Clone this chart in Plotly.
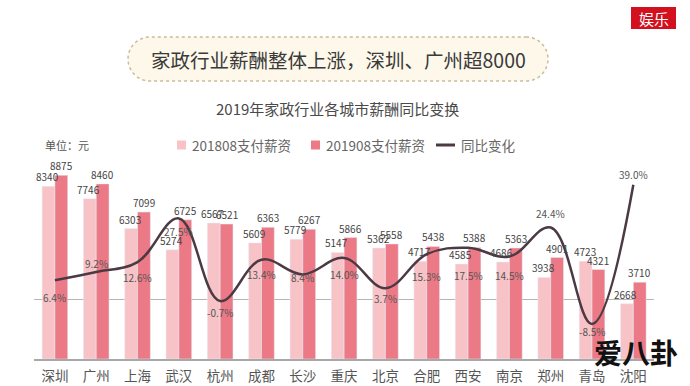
import math
import plotly.graph_objects as go

cities = ["深圳", "广州", "上海", "武汉", "杭州", "成都", "长沙", "重庆",
          "北京", "合肥", "西安", "南京", "郑州", "青岛", "沈阳"]
pay_2018 = [8340, 7746, 6303, 5274, 6567, 5609, 5779, 5147, 5362, 4717, 4585, 4686, 3938, 4723, 2668]
pay_2019 = [8875, 8460, 7099, 6725, 6521, 6363, 6267, 5866, 5558, 5438, 5388, 5363, 4901, 4321, 3710]
yoy_change = [6.4, 9.2, 12.6, 27.5, -0.7, 13.4, 8.4, 14.0, 3.7, 15.3, 17.5, 14.5, 24.4, -8.5, 39.0]
# style: vertical offset (px, +down) of each percentage label from its point
yoy_label_dy = [17, -9, 15, 13, 11, 15, 3, 17, 10, 22, 28, 19, -14, 8, -10]

W, H = 690, 386
L, R, T, B = 34, 654, 150, 359
FONT = "Noto Sans CJK SC, Noto Sans, sans-serif"
C18 = "#f8c3c6"
C19 = "#ec7a86"
CLINE = "#4b3a44"
BARGAP = 0.38


def px(x):
    return (x - L) / (R - L)


def py(y):
    return (B - y) / (B - T)


fig = go.Figure()
fig.add_trace(go.Bar(x=cities, y=pay_2018, name="201808支付薪资", marker_color=C18, showlegend=False))
fig.add_trace(go.Bar(x=cities, y=pay_2019, name="201908支付薪资", marker_color=C19, showlegend=False))
fig.add_trace(go.Scatter(x=cities, y=yoy_change, name="同比变化", yaxis="y2",
                         mode="lines", line=dict(color=CLINE, width=2.5, shape="spline", smoothing=1.1),
                         cliponaxis=False, showlegend=False))

shapes = []
# title pill (stadium)
x0, x1, y0, y1 = 128, 548, 37, 81
r = (y1 - y0) / 2
pts = []
cy = (y0 + y1) / 2
for i in range(0, 41):
    a = -math.pi / 2 + math.pi * i / 40
    pts.append((x1 - r + r * math.cos(a), cy + r * math.sin(a)))
for i in range(0, 41):
    a = math.pi / 2 + math.pi * i / 40
    pts.append((x0 + r + r * math.cos(a), cy + r * math.sin(a)))
path = "M " + " L ".join(f"{px(a):.5f},{py(b):.5f}" for a, b in pts) + " Z"
shapes.append(dict(type="path", xref="paper", yref="paper", path=path,
                   fillcolor="#fdf8ea", line=dict(color="#c9bc9e", width=1.5, dash="dot"), layer="below"))
# legend icons
shapes.append(dict(type="rect", xref="paper", yref="paper", x0=px(177), x1=px(186), y0=py(149.5), y1=py(140.5),
                   fillcolor=C18, line=dict(width=0)))
shapes.append(dict(type="rect", xref="paper", yref="paper", x0=px(311), x1=px(320), y0=py(149.5), y1=py(140.5),
                   fillcolor=C19, line=dict(width=0)))
shapes.append(dict(type="line", xref="paper", yref="paper", x0=px(436), x1=px(455), y0=py(145), y1=py(145),
                   line=dict(color=CLINE, width=3)))
# watermark box
shapes.append(dict(type="rect", xref="paper", yref="paper", x0=px(631), x1=px(676), y0=py(29), y1=py(7),
                   fillcolor="#d2101e", line=dict(width=0)))

ann = []


def add_text(t, x, y, size, color, xanchor="center", bold=False):
    ann.append(dict(text=f"<b>{t}</b>" if bold else t, x=px(x), y=py(y), xref="paper", yref="paper",
                    showarrow=False, xanchor=xanchor, yanchor="middle",
                    font=dict(size=size, color=color, family=FONT)))


# bar value labels (drawn above all bars)
slot = (R - L) / len(cities)
half = slot * (1 - BARGAP) / 4
for c, v18, v19 in zip(cities, pay_2018, pay_2019):
    for v, sh in ((v18, -half - 1), (v19, half)):
        ann.append(dict(text=str(v), x=c, y=v, xref="x", yref="y", showarrow=False,
                        xanchor="center", yanchor="bottom", xshift=sh, yshift=0,
                        font=dict(size=10, color="#444", family=FONT)))
# percentage labels
for c, v, dy in zip(cities, yoy_change, yoy_label_dy):
    ann.append(dict(text=f"{v:.1f}%", x=c, y=v, xref="x", yref="y2", showarrow=False,
                    xanchor="center", yanchor="middle", yshift=-dy,
                    font=dict(size=10, color="#555", family=FONT)))

add_text("家政行业薪酬整体上涨，深圳、广州超8000", 338, 59, 19.5, "#3a3a3a")
add_text("2019年家政行业各城市薪酬同比变换", 337, 108, 15, "#4a4a4a")
add_text("单位：元", 43, 145, 11, "#555", xanchor="left")
add_text("201808支付薪资", 190, 145, 13.5, "#666", xanchor="left")
add_text("201908支付薪资", 324, 145, 13.5, "#666", xanchor="left")
add_text("同比变化", 459, 145, 13.5, "#666", xanchor="left")
add_text("娱乐", 653.5, 18, 15, "#ffffff")
add_text("爱八卦", 636, 352, 28, "#111111", bold=True)

fig.update_layout(
    width=W, height=H,
    margin=dict(l=L, r=W - R, t=T, b=H - B),
    paper_bgcolor="white", plot_bgcolor="white",
    barmode="group", bargap=BARGAP, bargroupgap=0.0,
    font=dict(family=FONT),
    xaxis=dict(showline=True, linecolor="#a8a8a8", linewidth=1.5, ticks="", ticklabelstandoff=4,
               automargin=False,
               tickfont=dict(size=13.5, color="#555", family=FONT), showgrid=False, zeroline=False),
    yaxis=dict(range=[0, (B - T) / 0.0207], visible=False, showgrid=False, zeroline=False, automargin=False),
    yaxis2=dict(range=[-(B - 299) / 2.93, (299 - T) / 2.93], overlaying="y", side="right",
                showgrid=False, showticklabels=False, ticks="", zeroline=True, automargin=False,
                zerolinecolor="#b5b5b5", zerolinewidth=1, showline=False),
    shapes=shapes, annotations=ann,
)

fig.write_html("out.html", config={"displayModeBar": False},
               post_script="document.body.style.margin='0';")
